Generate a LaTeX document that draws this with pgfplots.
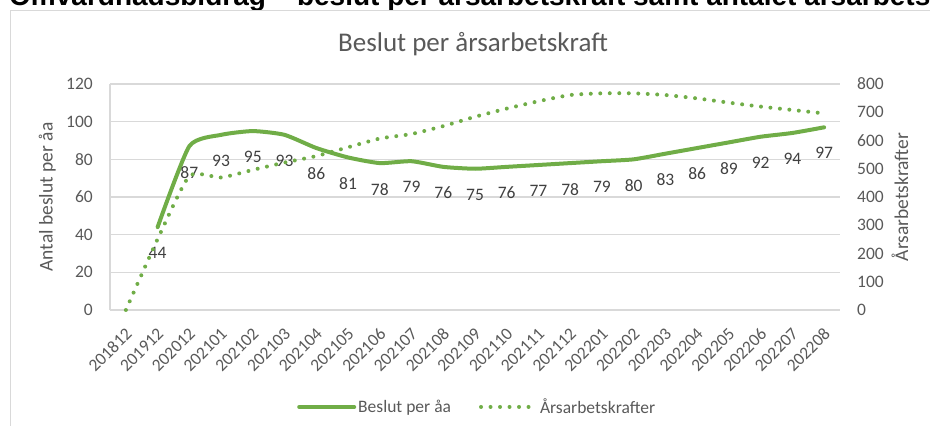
\documentclass[border=0pt]{standalone}
\usepackage{fontspec}
\setmainfont{Carlito}
\newfontfamily\titlefont{Liberation Sans}
\usepackage{pgfplots}
\pgfplotsset{compat=1.18}
\definecolor{grn}{HTML}{70AD47}
\definecolor{gridc}{HTML}{D9D9D9}
\definecolor{tickc}{HTML}{595959}
\definecolor{labc}{HTML}{404040}
\newcommand{\tf}{\fontsize{17.5}{20}\selectfont}
\pgfplotstableread{
x y
1 44
2 87
3 93
4 95
5 93
6 86
7 81
8 78
9 79
10 76
11 75
12 76
13 77
14 78
15 79
16 80
17 83
18 86
19 89
20 92
21 94
22 97
}\beslut
\pgfplotstableread{
x y
0 0
1 251
2 474
3 469
4 496
5 522
6 545
7 576
8 607
9 623
10 651
11 684
12 713
13 739
14 761
15 767
16 767
17 761
18 749
19 734
20 720
21 708
22 696
}\arsarb
\pgfplotsset{
  common/.style={
    at={(110pt,116pt)}, anchor=south west, scale only axis,
    width=730pt, height=226pt, xmin=-0.5, xmax=22.5,
    major tick length=0pt,
    tick label style={font=\tf, text=tickc},
    /pgf/number format/assume math mode=true,
    yticklabel style={inner sep=0pt},
    yticklabel shift=17pt,
  }
}
\begin{document}
\begin{tikzpicture}
\useasboundingbox (0pt,0pt) rectangle (930pt,426pt);
\begin{scope}
\clip (0pt,0pt) rectangle (930pt,426pt);
\node[anchor=base west, inner sep=0pt, font=\titlefont\bfseries\fontsize{28}{30}\selectfont] at (9pt,420pt) {Omvårdnadsbidrag – beslut per årsarbetskraft samt antalet årsarbetskrafter};
\draw[gridc, line width=1.3pt] (10.5pt,-5pt) -- (10.5pt,415.5pt) -- (940pt,415.5pt);
\end{scope}
\node[font=\fontsize{27}{30}\selectfont, text=tickc] at (473pt,382pt) {Beslut per årsarbetskraft};
\begin{axis}[common,
  ymin=0, ymax=120, ytick={0,20,...,120},
  xtick={0,...,22},
  xticklabels={201812,201912,202012,202101,202102,202103,202104,202105,202106,202107,202108,202109,202110,202111,202112,202201,202202,202203,202204,202205,202206,202207,202208},
  xticklabel style={xshift=3pt, yshift=-21pt, rotate=45, anchor=east, inner sep=0pt},
  axis lines*=left,
  axis line style={gridc, line width=1.3pt},
  ymajorgrids, grid style={gridc, line width=1.3pt},
  ylabel={Antal beslut per åa},
  ylabel style={font=\fontsize{19.5}{22}\selectfont, text=tickc, at={(axis description cs:-0.086,0.5)}, anchor=center},
  legend style={at={(axis description cs:0.503,-0.429)}, anchor=center, draw=none, fill=none, font=\tf, text=tickc, legend columns=2, /tikz/every even column/.append style={column sep=26pt}},
  legend image code/.code={\draw[#1] (0pt,0pt) -- (55pt,0pt);},
  clip=false,
]
\addplot[grn, line width=4pt, smooth, tension=0.35, line cap=round,
  nodes near coords, point meta=explicit symbolic,
  every node near coord/.append style={font=\tf, text=labc, anchor=center, yshift=-26pt}]
  table[x=x, y=y, meta=y] {\beslut};
\addlegendentry{Beslut per åa}
\addlegendimage{grn, line width=4pt, line cap=round, dash pattern=on 0pt off 9.5pt}
\addlegendentry{Årsarbetskrafter}
\end{axis}
\begin{axis}[common,
  ymin=0, ymax=800, ytick={0,100,...,800},
  axis y line*=right, axis x line=none,
  y axis line style={draw=none},
  ylabel={Årsarbetskrafter},
  ylabel style={font=\fontsize{19.5}{22}\selectfont, text=tickc, at={(axis description cs:1.082,0.5)}, anchor=center},
  clip=false,
]
\addplot[grn, line width=4pt, smooth, tension=0.35, line cap=round, dash pattern=on 0pt off 9.5pt] table[x=x, y=y] {\arsarb};
\end{axis}
\end{tikzpicture}
\end{document}
